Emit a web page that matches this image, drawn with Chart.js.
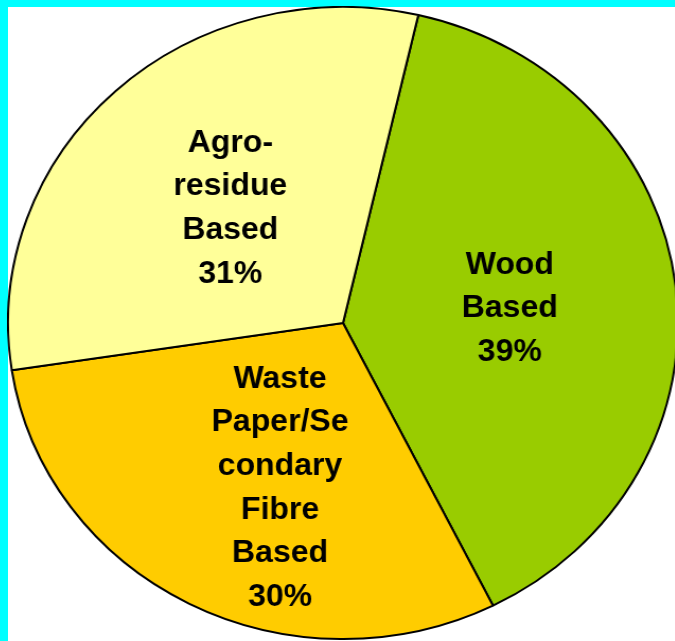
<!DOCTYPE html>
<html>
<head>
<meta charset="utf-8">
<script src="https://cdn.jsdelivr.net/npm/chart.js@4.4.1/dist/chart.umd.min.js"></script>
<style>
  html, body { margin: 0; padding: 0; }
  body { width: 675px; height: 641px; background: #00ffff; position: relative; overflow: hidden; }
  #paper { position: absolute; left: 8px; top: 7px; right: 0; bottom: 0; background: #fff; }
  #wrap { position: absolute; left: 26px; top: 6px; width: 634px; height: 634px;
          transform-origin: 317px 317px; }
</style>
</head>
<body>
<div id="paper"></div>
<div id="wrap"><canvas id="pie"></canvas></div>
<script>
var categories = [["Wood", "Based"], ["Waste", "Paper/Se", "condary", "Fibre", "Based"], ["Agro-", "residue", "Based"]];
var shares = [39, 30, 31];
var colours = ['#99cc00', '#ffcc00', '#ffff99'];

// the original pie is a bit wider than tall
var stretch = 1.06;
document.getElementById('wrap').style.transform = 'scaleX(' + stretch + ')';

// per slice: fraction of radius, angle shift in degrees
var labelSpot = [[0.50, 1.5], [0.555, -7.6], [0.495, 0]];

var sliceLabels = {
  id: 'sliceLabels',
  afterDatasetsDraw: function(chart) {
    var ctx = chart.ctx;
    var arcs = chart.getDatasetMeta(0).data;
    ctx.save();
    ctx.font = 'bold 32px "Liberation Sans", Arial, sans-serif';
    ctx.fillStyle = '#000';
    ctx.textAlign = 'center';
    ctx.textBaseline = 'middle';
    arcs.forEach(function(arc, i) {
      var p = arc.getProps(['x', 'y', 'startAngle', 'endAngle', 'outerRadius'], true);
      var mid = (p.startAngle + p.endAngle) / 2 + labelSpot[i][1] * Math.PI / 180;
      var r = p.outerRadius * labelSpot[i][0];
      var cx = p.x + r * Math.cos(mid);
      var cy = p.y + r * Math.sin(mid);
      var lines = categories[i].concat([shares[i] + '%']);
      var lh = 43.7;
      var top = cy - (lines.length - 1) * lh / 2;
      lines.forEach(function(t, k) {
        ctx.save();
        ctx.translate(cx, top + k * lh);
        ctx.scale(1 / stretch, 1);
        ctx.fillText(t, 0, 0);
        ctx.restore();
      });
    });
    ctx.restore();
  }
};

new Chart(document.getElementById('pie'), {
  type: 'pie',
  data: {
    labels: categories.map(function(c) { return c.join(' '); }),
    datasets: [{
      data: shares,
      backgroundColor: colours,
      borderColor: '#000',
      borderWidth: 2
    }]
  },
  options: {
    responsive: true,
    maintainAspectRatio: false,
    animation: false,
    rotation: 13,
    layout: { padding: 0 },
    plugins: {
      legend: { display: false },
      tooltip: { enabled: false }
    }
  },
  plugins: [sliceLabels]
});
</script>
</body>
</html>
